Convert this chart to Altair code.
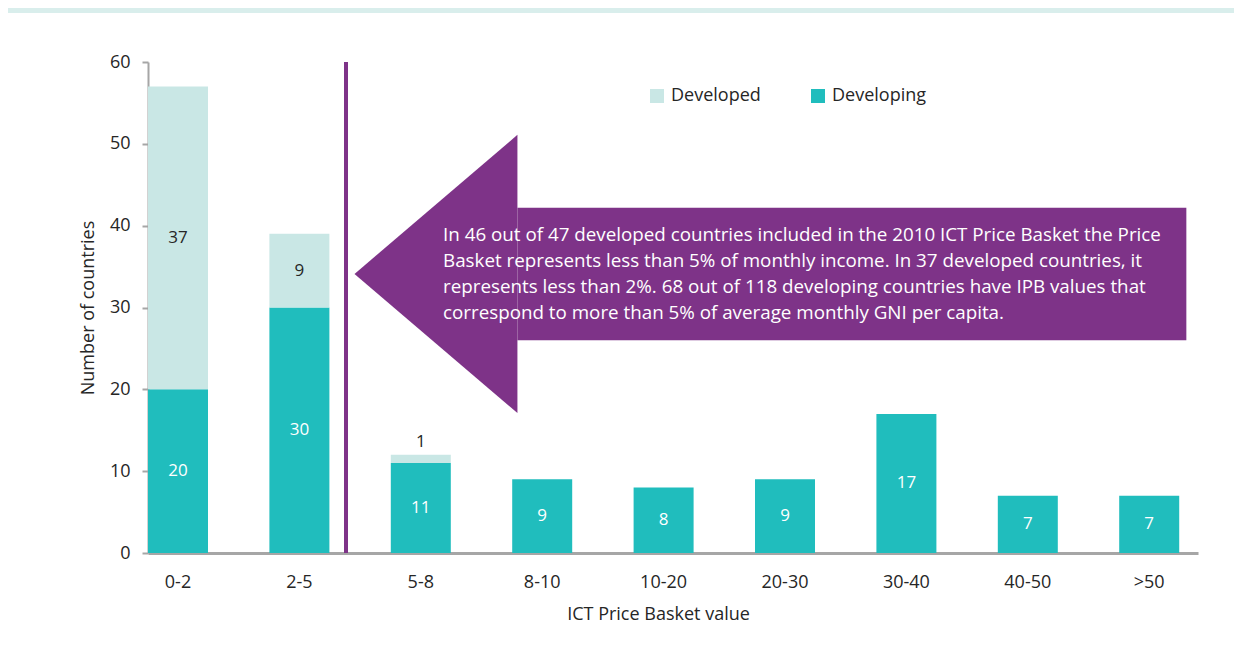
import altair as alt
import pandas as pd

# ---- data ----
categories = ["0-2", "2-5", "5-8", "8-10", "10-20", "20-30", "30-40", "40-50", ">50"]
developing = [20, 30, 11, 9, 8, 9, 17, 7, 7]
developed = [37, 9, 1, 0, 0, 0, 0, 0, 0]
series = ["Developed", "Developing"]
series_colors = ["#c9e7e5", "#20bdbd"]
y_ticks = [0, 10, 20, 30, 40, 50, 60]

# annotation positions, in category-index units (0 = centre of the first category)
divider_x = [1.384]
head_x = [1.454, 2.796]
head_top = [34.1, 51.1]
head_bottom = [34.1, 17.1]
body_x = [2.796]
body_x2 = [8.306]
body_top = [42.2]
body_bottom = [26.0]
note_x = [2.183]
note_y = [39.9]
note_lines = [
    "In 46 out of 47 developed countries included in the 2010 ICT Price Basket the Price",
    "Basket represents less than  5% of monthly income. In 37 developed countries, it",
    "represents less than 2%. 68 out of 118 developing countries have IPB values that",
    "correspond to more than 5% of average monthly GNI per capita.",
]

FONT = "Open Sans"
TXT = "#262626"
PURPLE = "#7e3388"

# ---- tables ----
rows = []
for c, dv, dd in zip(categories, developing, developed):
    rows.append({"cat": c, "series": "Developing", "value": dv, "ord": 0,
                 "mid": dv / 2, "top": dv})
    rows.append({"cat": c, "series": "Developed", "value": dd, "ord": 1,
                 "mid": dv + dd / 2, "top": dv + dd})
df = pd.DataFrame(rows)
df = df[df["value"] > 0]

inside_dev = df[df["series"] == "Developing"]
inside_dvd = df[(df["series"] == "Developed") & (df["value"] >= 3)]
above = df[(df["series"] == "Developed") & (df["value"] < 3)]

xscale = alt.Scale(domain=categories, paddingInner=0.5058, paddingOuter=0.0774, align=0)
yscale = alt.Scale(domain=[0, 60], nice=False)

bars = alt.Chart(df).mark_bar().encode(
    x=alt.X("cat:N", scale=xscale, sort=categories,
            axis=alt.Axis(title="ICT Price Basket value", labelAngle=0, ticks=False,
                          domainColor="#a6a6a6", domainWidth=3, labelPadding=20,
                          titlePadding=14, labelFontSize=18, titleFontSize=18,
                          labelColor=TXT, titleColor=TXT, titleFontWeight="normal",
                          labelFont=FONT, titleFont=FONT, titleX=510)),
    y=alt.Y("value:Q", stack="zero", scale=yscale,
            axis=alt.Axis(title="Number of countries", values=y_ticks, grid=False,
                          domainColor="#a6a6a6", domainWidth=2, tickColor="#a6a6a6",
                          tickWidth=2, tickSize=6, labelPadding=12, titlePadding=12,
                          labelFontSize=18, titleFontSize=18, labelColor=TXT,
                          titleColor=TXT, titleFontWeight="normal",
                          labelFont=FONT, titleFont=FONT)),
    color=alt.Color("series:N", scale=alt.Scale(domain=series, range=series_colors),
                    legend=alt.Legend(title=None, orient="none", legendX=500, legendY=25,
                                      direction="horizontal", symbolType="square",
                                      symbolSize=196, symbolStrokeWidth=0,
                                      labelFontSize=18, labelFont=FONT, labelColor=TXT,
                                      columnPadding=48, labelOffset=5, padding=0)),
    order=alt.Order("ord:Q"),
)


def labels(data, color, baseline="middle", field="mid", dy=0):
    return alt.Chart(data).mark_text(font=FONT, fontSize=17, baseline=baseline,
                                     color=color, dy=dy).encode(
        x=alt.X("cat:N", scale=xscale, sort=categories),
        y=alt.Y(f"{field}:Q", scale=yscale),
        text=alt.Text("value:Q"),
    )


label_dev = labels(inside_dev, "white")
label_dvd = labels(inside_dvd, TXT)
label_above = labels(above, TXT, baseline="bottom", field="top", dy=-4)

band = alt.Chart(pd.DataFrame({"a": [0]})).mark_rect(color="#d9eeec").encode(
    x=alt.value(-140), x2=alt.value(1100), y=alt.value(-54), y2=alt.value(-49)
)

qx = alt.Scale(domain=[-0.247, 8.402], nice=False, zero=False)
qy = alt.Scale(domain=[0, 60], nice=False, zero=False)

divider = alt.Chart(pd.DataFrame({"px": divider_x, "y0": [0], "y1": [60]})).mark_rule(
    color=PURPLE, strokeWidth=4).encode(
    x=alt.X("px:Q", scale=qx, axis=None),
    y=alt.Y("y0:Q", scale=qy, axis=None),
    y2="y1:Q",
)

head = alt.Chart(pd.DataFrame({"px": head_x, "hi": head_top, "lo": head_bottom})).mark_area(
    color=PURPLE, opacity=1).encode(
    x=alt.X("px:Q", scale=qx, axis=None),
    y=alt.Y("hi:Q", scale=qy, axis=None),
    y2="lo:Q",
)

body = alt.Chart(pd.DataFrame({"px": body_x, "px2": body_x2, "hi": body_top,
                               "lo": body_bottom})).mark_rect(color=PURPLE).encode(
    x=alt.X("px:Q", scale=qx, axis=None),
    x2="px2:Q",
    y=alt.Y("hi:Q", scale=qy, axis=None),
    y2="lo:Q",
)

note = alt.Chart(pd.DataFrame({"px": note_x, "py": note_y,
                               "t": ["\n".join(note_lines)]})).mark_text(
    font=FONT, fontSize=18.8, color="white", align="left", baseline="top",
    lineBreak="\n", lineHeight=26).encode(
    x=alt.X("px:Q", scale=qx, axis=None),
    y=alt.Y("py:Q", scale=qy, axis=None),
    text="t:N",
)

main = alt.layer(band, bars, label_dev, label_dvd, label_above)
annot = alt.layer(divider, head, body, note)

chart = alt.layer(main, annot).resolve_scale(x="independent", y="independent").properties(
    width=1050, height=491,
    padding={"left": 140, "top": 54, "right": 36, "bottom": 96},
    autosize=alt.AutoSizeParams(type="none"),
    background="white",
).configure_view(stroke=None)

chart.save("out.html", embed_options={"renderer": "svg", "actions": False})
